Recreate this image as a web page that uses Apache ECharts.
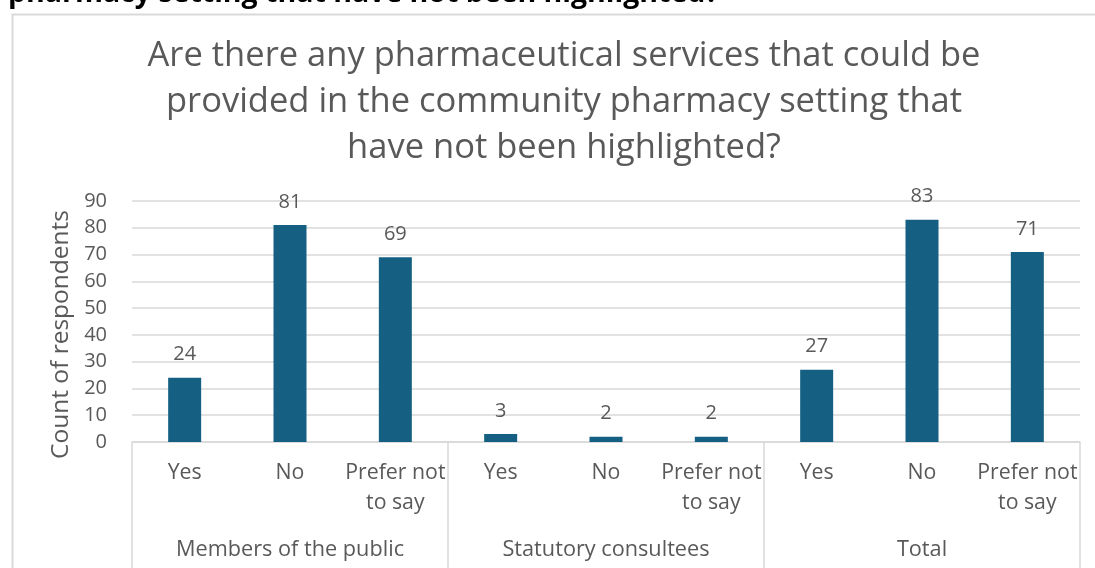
<!DOCTYPE html>
<html>
<head>
<meta charset="utf-8">
<script src="https://cdn.jsdelivr.net/npm/echarts@6/dist/echarts.min.js"></script>
<style>
html,body{margin:0;padding:0;background:#fff;}
#chart{width:1095px;height:568px;}
</style>
</head>
<body>
<div id="chart"></div>
<script>
const categories = ['Yes', 'No', 'Prefer not\nto say', 'Yes', 'No', 'Prefer not\nto say', 'Yes', 'No', 'Prefer not\nto say'];
const groups = ['Members of the public', 'Statutory consultees', 'Total'];
const counts = [24, 81, 69, 3, 2, 2, 27, 83, 71];
const yTicks = { min: 0, max: 90, interval: 10 };
const titleText = 'Are there any pharmaceutical services that could be\nprovided in the community pharmacy setting that\nhave not been highlighted?';
const headerText = 'pharmacy setting that have not been highlighted?';
const yAxisName = 'Count of respondents';

const FONT = '"Open Sans", sans-serif';
const GREY = '#595959';
const LINE = '#d9d9d9';

const chart = echarts.init(document.getElementById('chart'), null, { renderer: 'canvas' });
chart.setOption({
  animation: false,
  backgroundColor: '#fff',
  textStyle: { fontFamily: FONT },
  graphic: [
    { type: 'rect', left: 10, top: 12, shape: { width: 1200, height: 700 }, style: { fill: 'none', stroke: LINE, lineWidth: 2 }, z: -1 },
    { type: 'text', left: 8, top: -21, style: { text: headerText, font: 'bold 28.5px ' + FONT, fill: '#000' } }
  ],
  title: {
    text: titleText,
    left: 559, top: 28, textAlign: 'center',
    textStyle: { fontFamily: FONT, fontSize: 34.5, fontWeight: 'normal', color: GREY, lineHeight: 46 }
  },
  grid: { left: 132, right: 15, top: 201, bottom: 126, containLabel: false },
  xAxis: [
    {
      type: 'category', data: categories, position: 'bottom',
      axisLine: { show: true, lineStyle: { color: LINE, width: 1.5 } },
      axisTick: { show: false },
      axisLabel: { interval: 0, margin: 16, color: GREY, fontSize: 21.3, lineHeight: 30, fontFamily: FONT, align: 'center' }
    },
    {
      type: 'category', data: groups, position: 'bottom',
      axisLine: { show: false },
      axisTick: { show: true, length: 130, interval: 0, lineStyle: { color: LINE, width: 1.5 } },
      axisLabel: { interval: 0, margin: 97, color: GREY, fontSize: 21.7, fontFamily: FONT }
    }
  ],
  yAxis: {
    type: 'value', min: yTicks.min, max: yTicks.max, interval: yTicks.interval,
    name: yAxisName, nameLocation: 'middle', nameGap: 57, nameRotate: 90,
    nameTextStyle: { color: GREY, fontSize: 24.5, fontFamily: FONT, padding: [0, 26, 0, 0] },
    axisLine: { show: false }, axisTick: { show: false },
    axisLabel: { color: GREY, fontSize: 20, margin: 25, fontFamily: FONT },
    splitLine: { lineStyle: { color: LINE, width: 1.5 } }
  },
  series: [{
    type: 'bar', data: counts, xAxisIndex: 0, barWidth: 33,
    itemStyle: { color: '#156082' },
    label: { show: true, position: 'top', distance: 13, color: GREY, fontSize: 20, fontFamily: FONT }
  }]
});
</script>
</body>
</html>
